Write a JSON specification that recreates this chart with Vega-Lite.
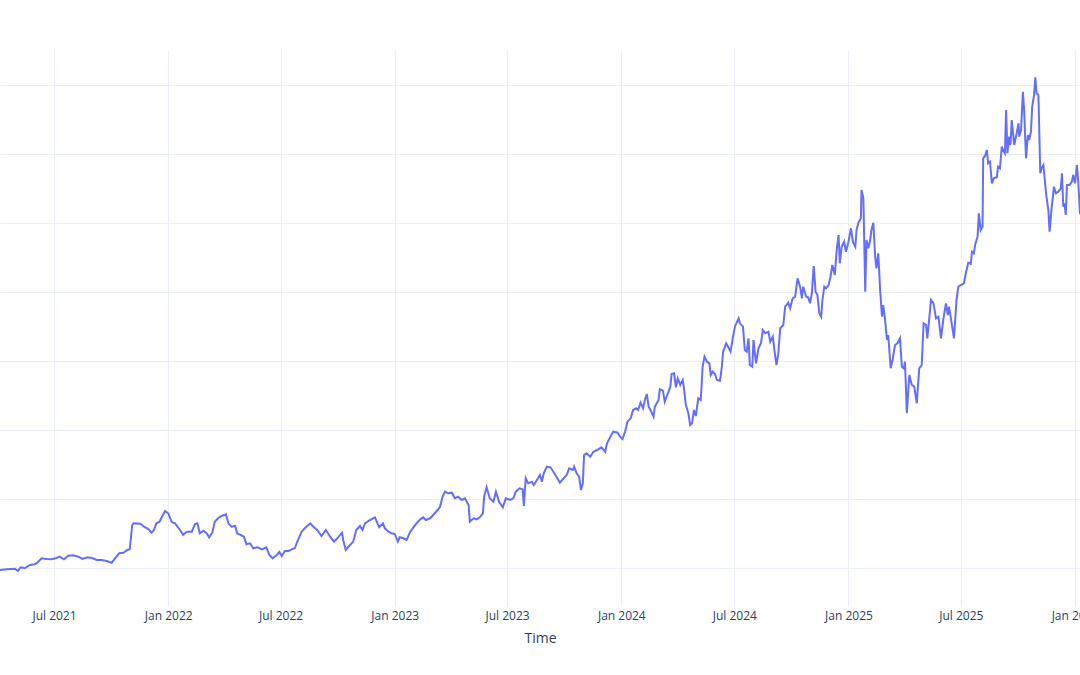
{
  "$schema": "https://vega.github.io/schema/vega-lite/v6.json",
  "width": 1080,
  "height": 556,
  "autosize": {"type": "none"},
  "padding": {"left": 0, "top": 50, "right": 0, "bottom": 69},
  "background": "white",
  "config": {"view": {"stroke": null}, "font": "Open Sans"},
  "data": {"values": [
{"date":"2021-03-31","value":35},
{"date":"2021-04-05","value":36},
{"date":"2021-04-16","value":36.7},
{"date":"2021-04-29","value":37.3},
{"date":"2021-05-04","value":35},
{"date":"2021-05-08","value":38.7},
{"date":"2021-05-15","value":37.7},
{"date":"2021-05-23","value":41},
{"date":"2021-05-31","value":41.7},
{"date":"2021-06-04","value":43.3},
{"date":"2021-06-11","value":47.7},
{"date":"2021-06-19","value":47},
{"date":"2021-06-27","value":46.7},
{"date":"2021-07-05","value":48},
{"date":"2021-07-10","value":49.3},
{"date":"2021-07-17","value":46.7},
{"date":"2021-07-24","value":50.3},
{"date":"2021-08-01","value":50.7},
{"date":"2021-08-09","value":49.3},
{"date":"2021-08-16","value":47},
{"date":"2021-08-24","value":48.7},
{"date":"2021-08-31","value":48},
{"date":"2021-09-08","value":46},
{"date":"2021-09-16","value":46},
{"date":"2021-09-24","value":45},
{"date":"2021-10-02","value":43.3},
{"date":"2021-10-07","value":47.3},
{"date":"2021-10-14","value":52.7},
{"date":"2021-10-21","value":53.3},
{"date":"2021-10-27","value":56},
{"date":"2021-10-31","value":56.7},
{"date":"2021-11-04","value":81},
{"date":"2021-11-06","value":82.7},
{"date":"2021-11-17","value":82.3},
{"date":"2021-11-23","value":79.3},
{"date":"2021-11-30","value":77},
{"date":"2021-12-05","value":73.3},
{"date":"2021-12-09","value":76},
{"date":"2021-12-13","value":82.7},
{"date":"2021-12-18","value":84.3},
{"date":"2021-12-22","value":89.3},
{"date":"2021-12-27","value":95},
{"date":"2022-01-01","value":92.7},
{"date":"2022-01-07","value":83.7},
{"date":"2022-01-12","value":82.7},
{"date":"2022-01-20","value":76},
{"date":"2022-01-25","value":71},
{"date":"2022-01-31","value":74.3},
{"date":"2022-02-08","value":74.3},
{"date":"2022-02-13","value":81.7},
{"date":"2022-02-17","value":82.7},
{"date":"2022-02-21","value":72.7},
{"date":"2022-02-27","value":75.3},
{"date":"2022-03-04","value":72.7},
{"date":"2022-03-08","value":68.7},
{"date":"2022-03-13","value":73.3},
{"date":"2022-03-17","value":84.3},
{"date":"2022-03-23","value":88.3},
{"date":"2022-03-28","value":90},
{"date":"2022-04-04","value":91.7},
{"date":"2022-04-08","value":82.7},
{"date":"2022-04-13","value":79.3},
{"date":"2022-04-19","value":80},
{"date":"2022-04-22","value":72.7},
{"date":"2022-04-28","value":71},
{"date":"2022-05-03","value":69.3},
{"date":"2022-05-07","value":61.7},
{"date":"2022-05-13","value":62.7},
{"date":"2022-05-18","value":57.7},
{"date":"2022-05-25","value":58.7},
{"date":"2022-06-01","value":56.7},
{"date":"2022-06-08","value":58.7},
{"date":"2022-06-13","value":51},
{"date":"2022-06-18","value":47.7},
{"date":"2022-06-25","value":51},
{"date":"2022-06-29","value":54},
{"date":"2022-07-03","value":50},
{"date":"2022-07-08","value":55},
{"date":"2022-07-14","value":55},
{"date":"2022-07-19","value":56.7},
{"date":"2022-07-24","value":57.7},
{"date":"2022-07-28","value":64.3},
{"date":"2022-08-04","value":74.3},
{"date":"2022-08-09","value":77.7},
{"date":"2022-08-18","value":82.7},
{"date":"2022-08-23","value":79.3},
{"date":"2022-08-29","value":76},
{"date":"2022-09-05","value":70},
{"date":"2022-09-12","value":76},
{"date":"2022-09-19","value":69.3},
{"date":"2022-09-25","value":64.3},
{"date":"2022-09-29","value":66.7},
{"date":"2022-10-08","value":73.3},
{"date":"2022-10-10","value":66},
{"date":"2022-10-14","value":56},
{"date":"2022-10-21","value":61},
{"date":"2022-10-26","value":64.3},
{"date":"2022-10-31","value":76},
{"date":"2022-11-06","value":80},
{"date":"2022-11-10","value":76},
{"date":"2022-11-14","value":82.7},
{"date":"2022-11-22","value":86},
{"date":"2022-11-30","value":88.7},
{"date":"2022-12-03","value":84.3},
{"date":"2022-12-07","value":78.7},
{"date":"2022-12-13","value":82.7},
{"date":"2022-12-16","value":77.7},
{"date":"2022-12-22","value":74.3},
{"date":"2022-12-27","value":72.7},
{"date":"2023-01-01","value":72},
{"date":"2023-01-06","value":64.3},
{"date":"2023-01-09","value":68.7},
{"date":"2023-01-15","value":67.7},
{"date":"2023-01-20","value":66},
{"date":"2023-01-26","value":74.3},
{"date":"2023-02-01","value":79.3},
{"date":"2023-02-05","value":82.7},
{"date":"2023-02-11","value":86.7},
{"date":"2023-02-16","value":88.7},
{"date":"2023-02-20","value":86},
{"date":"2023-02-27","value":87.7},
{"date":"2023-03-04","value":91},
{"date":"2023-03-11","value":96},
{"date":"2023-03-15","value":99.3},
{"date":"2023-03-19","value":109.3},
{"date":"2023-03-23","value":114.3},
{"date":"2023-03-28","value":112.7},
{"date":"2023-04-03","value":113.3},
{"date":"2023-04-08","value":107.7},
{"date":"2023-04-13","value":109.3},
{"date":"2023-04-19","value":106},
{"date":"2023-04-24","value":107.7},
{"date":"2023-04-30","value":101},
{"date":"2023-05-02","value":84.3},
{"date":"2023-05-08","value":87.7},
{"date":"2023-05-13","value":86.7},
{"date":"2023-05-18","value":88.7},
{"date":"2023-05-23","value":92.7},
{"date":"2023-05-25","value":109.3},
{"date":"2023-05-29","value":118.7},
{"date":"2023-06-03","value":107.7},
{"date":"2023-06-09","value":104.3},
{"date":"2023-06-13","value":114.3},
{"date":"2023-06-18","value":104.3},
{"date":"2023-06-24","value":98.7},
{"date":"2023-06-29","value":107.7},
{"date":"2023-07-06","value":106},
{"date":"2023-07-11","value":107.7},
{"date":"2023-07-15","value":114.3},
{"date":"2023-07-21","value":117.7},
{"date":"2023-07-26","value":116.7},
{"date":"2023-07-28","value":100},
{"date":"2023-07-31","value":127.7},
{"date":"2023-08-04","value":122.7},
{"date":"2023-08-10","value":124.3},
{"date":"2023-08-13","value":121},
{"date":"2023-08-18","value":126},
{"date":"2023-08-23","value":131},
{"date":"2023-08-26","value":124.3},
{"date":"2023-08-29","value":132.7},
{"date":"2023-09-03","value":139.3},
{"date":"2023-09-09","value":138.7},
{"date":"2023-09-15","value":132.7},
{"date":"2023-09-20","value":127.7},
{"date":"2023-09-24","value":123.3},
{"date":"2023-09-30","value":127.7},
{"date":"2023-10-05","value":131},
{"date":"2023-10-09","value":137.7},
{"date":"2023-10-15","value":136},
{"date":"2023-10-17","value":139.3},
{"date":"2023-10-21","value":132.7},
{"date":"2023-10-25","value":129.3},
{"date":"2023-10-28","value":116},
{"date":"2023-10-31","value":122.7},
{"date":"2023-11-02","value":151},
{"date":"2023-11-06","value":152.7},
{"date":"2023-11-12","value":149.3},
{"date":"2023-11-17","value":154.3},
{"date":"2023-11-23","value":156},
{"date":"2023-11-30","value":158.7},
{"date":"2023-12-06","value":154.3},
{"date":"2023-12-09","value":162.7},
{"date":"2023-12-15","value":170},
{"date":"2023-12-19","value":174.3},
{"date":"2023-12-26","value":173.3},
{"date":"2023-12-30","value":169.3},
{"date":"2024-01-03","value":167},
{"date":"2024-01-07","value":174.3},
{"date":"2024-01-11","value":184.3},
{"date":"2024-01-16","value":187.7},
{"date":"2024-01-20","value":196},
{"date":"2024-01-25","value":197.7},
{"date":"2024-01-28","value":196},
{"date":"2024-02-01","value":203.3},
{"date":"2024-02-05","value":197.7},
{"date":"2024-02-08","value":206},
{"date":"2024-02-11","value":212},
{"date":"2024-02-14","value":199.3},
{"date":"2024-02-17","value":196},
{"date":"2024-02-22","value":189.3},
{"date":"2024-02-24","value":199.3},
{"date":"2024-03-01","value":206},
{"date":"2024-03-03","value":216.7},
{"date":"2024-03-08","value":215.3},
{"date":"2024-03-11","value":204.3},
{"date":"2024-03-15","value":211},
{"date":"2024-03-20","value":219.3},
{"date":"2024-03-22","value":232},
{"date":"2024-03-26","value":232.7},
{"date":"2024-03-29","value":218.7},
{"date":"2024-04-01","value":227.7},
{"date":"2024-04-05","value":221},
{"date":"2024-04-09","value":226},
{"date":"2024-04-11","value":217.7},
{"date":"2024-04-14","value":201},
{"date":"2024-04-18","value":192.7},
{"date":"2024-04-21","value":181},
{"date":"2024-04-24","value":182.7},
{"date":"2024-04-27","value":196},
{"date":"2024-04-30","value":190},
{"date":"2024-05-04","value":207.7},
{"date":"2024-05-08","value":206},
{"date":"2024-05-11","value":239.3},
{"date":"2024-05-14","value":249.3},
{"date":"2024-05-18","value":244.3},
{"date":"2024-05-22","value":242.7},
{"date":"2024-05-24","value":231},
{"date":"2024-05-27","value":234.3},
{"date":"2024-05-31","value":232},
{"date":"2024-06-03","value":226},
{"date":"2024-06-08","value":225.3},
{"date":"2024-06-11","value":239.3},
{"date":"2024-06-13","value":254.3},
{"date":"2024-06-18","value":262.7},
{"date":"2024-06-21","value":259.3},
{"date":"2024-06-25","value":254.3},
{"date":"2024-06-29","value":269.3},
{"date":"2024-07-02","value":279.3},
{"date":"2024-07-08","value":287.7},
{"date":"2024-07-10","value":282.7},
{"date":"2024-07-15","value":279.3},
{"date":"2024-07-18","value":256},
{"date":"2024-07-21","value":254.3},
{"date":"2024-07-24","value":267.7},
{"date":"2024-07-26","value":241},
{"date":"2024-07-30","value":239.3},
{"date":"2024-08-01","value":266},
{"date":"2024-08-05","value":242.7},
{"date":"2024-08-09","value":257.7},
{"date":"2024-08-13","value":262.7},
{"date":"2024-08-16","value":276},
{"date":"2024-08-20","value":272.7},
{"date":"2024-08-25","value":274.3},
{"date":"2024-08-28","value":264.3},
{"date":"2024-09-01","value":269.3},
{"date":"2024-09-05","value":249.3},
{"date":"2024-09-07","value":241},
{"date":"2024-09-10","value":252.7},
{"date":"2024-09-13","value":277.7},
{"date":"2024-09-18","value":281},
{"date":"2024-09-21","value":299.3},
{"date":"2024-09-26","value":303.3},
{"date":"2024-09-29","value":297.7},
{"date":"2024-10-03","value":307.7},
{"date":"2024-10-07","value":309.3},
{"date":"2024-10-11","value":327.7},
{"date":"2024-10-15","value":319.3},
{"date":"2024-10-18","value":307.7},
{"date":"2024-10-20","value":319.3},
{"date":"2024-10-25","value":309.3},
{"date":"2024-10-28","value":308.7},
{"date":"2024-10-31","value":302.7},
{"date":"2024-11-03","value":312.7},
{"date":"2024-11-06","value":340},
{"date":"2024-11-09","value":314.3},
{"date":"2024-11-12","value":311},
{"date":"2024-11-15","value":292.7},
{"date":"2024-11-18","value":289.3},
{"date":"2024-11-20","value":306},
{"date":"2024-11-23","value":319.3},
{"date":"2024-11-26","value":317.7},
{"date":"2024-11-30","value":321},
{"date":"2024-12-03","value":329.3},
{"date":"2024-12-06","value":341},
{"date":"2024-12-10","value":331},
{"date":"2024-12-13","value":356},
{"date":"2024-12-16","value":371},
{"date":"2024-12-18","value":342.7},
{"date":"2024-12-21","value":359.3},
{"date":"2024-12-25","value":364.3},
{"date":"2024-12-28","value":354.3},
{"date":"2025-01-01","value":364.3},
{"date":"2025-01-05","value":377.7},
{"date":"2025-01-08","value":364.3},
{"date":"2025-01-12","value":359.3},
{"date":"2025-01-14","value":376},
{"date":"2025-01-17","value":383.3},
{"date":"2025-01-21","value":387.7},
{"date":"2025-01-22","value":416},
{"date":"2025-01-25","value":407.7},
{"date":"2025-01-28","value":314.3},
{"date":"2025-01-30","value":366},
{"date":"2025-02-02","value":357.7},
{"date":"2025-02-05","value":366},
{"date":"2025-02-07","value":376},
{"date":"2025-02-10","value":383.3},
{"date":"2025-02-13","value":349.3},
{"date":"2025-02-15","value":337.7},
{"date":"2025-02-18","value":352.7},
{"date":"2025-02-21","value":316},
{"date":"2025-02-24","value":289.3},
{"date":"2025-02-26","value":301},
{"date":"2025-03-01","value":286},
{"date":"2025-03-04","value":266},
{"date":"2025-03-06","value":271},
{"date":"2025-03-10","value":237.7},
{"date":"2025-03-13","value":246},
{"date":"2025-03-17","value":261},
{"date":"2025-03-21","value":262.7},
{"date":"2025-03-25","value":267.7},
{"date":"2025-03-28","value":239.3},
{"date":"2025-03-31","value":237.7},
{"date":"2025-04-02","value":244.3},
{"date":"2025-04-05","value":192.7},
{"date":"2025-04-09","value":231},
{"date":"2025-04-13","value":221},
{"date":"2025-04-17","value":219.3},
{"date":"2025-04-21","value":202.7},
{"date":"2025-04-25","value":237.7},
{"date":"2025-04-29","value":241},
{"date":"2025-05-02","value":282.7},
{"date":"2025-05-06","value":281},
{"date":"2025-05-08","value":267.7},
{"date":"2025-05-14","value":306},
{"date":"2025-05-18","value":302.7},
{"date":"2025-05-22","value":287.7},
{"date":"2025-05-26","value":289.3},
{"date":"2025-05-30","value":267.7},
{"date":"2025-06-03","value":287.7},
{"date":"2025-06-07","value":302.7},
{"date":"2025-06-10","value":291},
{"date":"2025-06-12","value":299.3},
{"date":"2025-06-15","value":287.7},
{"date":"2025-06-20","value":267.7},
{"date":"2025-06-24","value":306},
{"date":"2025-06-27","value":319.3},
{"date":"2025-07-01","value":321},
{"date":"2025-07-06","value":322.7},
{"date":"2025-07-09","value":332.7},
{"date":"2025-07-13","value":343.3},
{"date":"2025-07-17","value":342},
{"date":"2025-07-19","value":354.3},
{"date":"2025-07-22","value":352.7},
{"date":"2025-07-24","value":361},
{"date":"2025-07-28","value":369.3},
{"date":"2025-07-30","value":392.7},
{"date":"2025-08-02","value":376},
{"date":"2025-08-05","value":379.3},
{"date":"2025-08-06","value":447.7},
{"date":"2025-08-09","value":450},
{"date":"2025-08-12","value":456},
{"date":"2025-08-14","value":442.7},
{"date":"2025-08-17","value":444.3},
{"date":"2025-08-20","value":422.7},
{"date":"2025-08-23","value":427.7},
{"date":"2025-08-28","value":428.7},
{"date":"2025-08-30","value":439.3},
{"date":"2025-09-02","value":437.7},
{"date":"2025-09-05","value":459.3},
{"date":"2025-09-07","value":456},
{"date":"2025-09-10","value":452.7},
{"date":"2025-09-12","value":496},
{"date":"2025-09-14","value":452.7},
{"date":"2025-09-17","value":469.3},
{"date":"2025-09-19","value":461},
{"date":"2025-09-21","value":486},
{"date":"2025-09-25","value":461},
{"date":"2025-09-29","value":472.7},
{"date":"2025-10-02","value":482.7},
{"date":"2025-10-03","value":469.3},
{"date":"2025-10-06","value":476},
{"date":"2025-10-09","value":514.3},
{"date":"2025-10-11","value":496},
{"date":"2025-10-14","value":447.7},
{"date":"2025-10-17","value":471},
{"date":"2025-10-19","value":466},
{"date":"2025-10-22","value":474.3},
{"date":"2025-10-24","value":499.3},
{"date":"2025-10-27","value":511},
{"date":"2025-10-29","value":528.7},
{"date":"2025-10-31","value":512.7},
{"date":"2025-11-03","value":511},
{"date":"2025-11-06","value":432.7},
{"date":"2025-11-08","value":437.7},
{"date":"2025-11-11","value":441},
{"date":"2025-11-14","value":421},
{"date":"2025-11-16","value":409.3},
{"date":"2025-11-19","value":396},
{"date":"2025-11-21","value":374.3},
{"date":"2025-11-24","value":396},
{"date":"2025-11-28","value":419.3},
{"date":"2025-12-01","value":412.7},
{"date":"2025-12-05","value":414.3},
{"date":"2025-12-09","value":417.7},
{"date":"2025-12-11","value":432.7},
{"date":"2025-12-13","value":399.3},
{"date":"2025-12-15","value":402.7},
{"date":"2025-12-17","value":391},
{"date":"2025-12-19","value":421},
{"date":"2025-12-23","value":421},
{"date":"2025-12-27","value":424.3},
{"date":"2025-12-29","value":431},
{"date":"2026-01-01","value":422.7},
{"date":"2026-01-04","value":441},
{"date":"2026-01-06","value":426},
{"date":"2026-01-09","value":392.7},
{"date":"2026-01-14","value":390}
  ]},
  "mark": {"type": "line", "color": "#636efa", "strokeWidth": 2, "clip": true, "interpolate": "linear"},
  "encoding": {
    "x": {
      "field": "date",
      "type": "temporal",
      "scale": {"type": "utc", "domain": [{"year": 2021, "month": 4, "date": 5, "utc": true}, {"year": 2026, "month": 1, "date": 9, "utc": true}]},
      "axis": {
        "title": "Time",
        "values": [
          {"year": 2021, "month": 7, "date": 1, "utc": true},
          {"year": 2022, "month": 1, "date": 1, "utc": true},
          {"year": 2022, "month": 7, "date": 1, "utc": true},
          {"year": 2023, "month": 1, "date": 1, "utc": true},
          {"year": 2023, "month": 7, "date": 1, "utc": true},
          {"year": 2024, "month": 1, "date": 1, "utc": true},
          {"year": 2024, "month": 7, "date": 1, "utc": true},
          {"year": 2025, "month": 1, "date": 1, "utc": true},
          {"year": 2025, "month": 7, "date": 1, "utc": true},
          {"year": 2026, "month": 1, "date": 1, "utc": true}
        ],
        "format": "%b %Y",
        "grid": true,
        "gridColor": "#ebf0f8",
        "gridWidth": 1,
        "domain": false,
        "ticks": false,
        "labelFont": "Open Sans",
        "labelFontSize": 12,
        "labelColor": "#2a3f5f",
        "labelPadding": 4,
        "labelOverlap": false,
        "labelFlush": false,
        "titleFont": "Open Sans",
        "titleFontSize": 14,
        "titleFontWeight": "normal",
        "titleColor": "#2a3f5f",
        "titlePadding": 10
      }
    },
    "y": {
      "field": "value",
      "type": "quantitative",
      "scale": {"domain": [0, 556], "nice": false, "zero": false},
      "axis": {
        "title": null,
        "values": [38, 107, 176, 245, 314, 383, 452, 521],
        "grid": true,
        "gridColor": "#ebf0f8",
        "gridWidth": 1,
        "domain": false,
        "ticks": false,
        "labels": false
      }
    }
  }
}
